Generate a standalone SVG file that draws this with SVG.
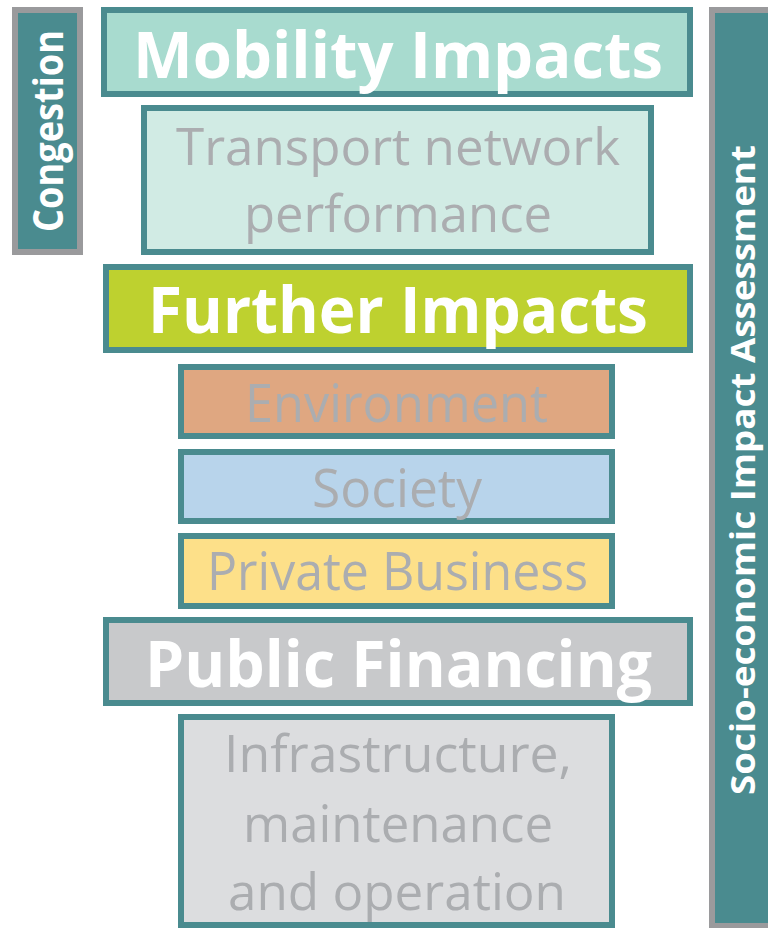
<svg xmlns="http://www.w3.org/2000/svg" width="768" height="928" viewBox="0 0 768 928">
<style>
.box{stroke:#4a8b8f;stroke-width:6}
.side{fill:#4a8b8f;stroke:#9a9a9c;stroke-width:6}
.h{font-family:"Open Sans","DejaVu Sans",sans-serif;font-weight:bold;fill:#ffffff;text-anchor:middle}
.t{font-family:"Open Sans","DejaVu Sans",sans-serif;fill:#abadb0;text-anchor:middle}
</style>
<rect width="768" height="928" fill="#ffffff"/>
<g id="congestion">
<rect class="side" x="15" y="10" width="65" height="242"/>
<text class="h" font-size="41" textLength="202" lengthAdjust="spacingAndGlyphs" transform="translate(63,131) rotate(-90)">Congestion</text>
</g>
<g id="socio-economic">
<rect class="side" x="712" y="10" width="62" height="916"/>
<text class="h" font-size="34" textLength="650" lengthAdjust="spacingAndGlyphs" transform="translate(755,470) rotate(-90)">Socio-economic Impact Assessment</text>
</g>
<g id="mobility">
<rect class="box" x="104" y="10" width="586" height="84" fill="#a8dbcf"/>
<text class="h" x="398" y="78" font-size="65" textLength="530" lengthAdjust="spacingAndGlyphs">Mobility Impacts</text>
</g>
<g id="transport">
<rect class="box" x="144" y="108" width="507" height="144" fill="#d1ebe4"/>
<text class="t" x="398" y="165" font-size="52" textLength="444" lengthAdjust="spacingAndGlyphs">Transport network</text>
<text class="t" x="398" y="232" font-size="52" textLength="308" lengthAdjust="spacingAndGlyphs">performance</text>
</g>
<g id="further">
<rect class="box" x="106" y="267" width="584" height="83" fill="#bed12f"/>
<text class="h" x="398" y="333" font-size="65" textLength="500" lengthAdjust="spacingAndGlyphs">Further Impacts</text>
</g>
<g id="environment">
<rect class="box" x="181" y="367" width="431" height="69" fill="#dfa781"/>
<text class="t" x="396.5" y="422" font-size="53" textLength="303" lengthAdjust="spacingAndGlyphs">Environment</text>
</g>
<g id="society">
<rect class="box" x="181" y="452" width="431" height="69" fill="#b8d4eb"/>
<text class="t" x="397" y="507" font-size="53" textLength="170" lengthAdjust="spacingAndGlyphs">Society</text>
</g>
<g id="private">
<rect class="box" x="181" y="536" width="431" height="70" fill="#fde089"/>
<text class="t" x="397.5" y="590" font-size="53" textLength="381" lengthAdjust="spacingAndGlyphs">Private Business</text>
</g>
<g id="public">
<rect class="box" x="106" y="620" width="584" height="83" fill="#c8c9cb"/>
<text class="h" x="398.5" y="687" font-size="65" textLength="507" lengthAdjust="spacingAndGlyphs">Public Financing</text>
</g>
<g id="infrastructure">
<rect class="box" x="181" y="717" width="431" height="208" fill="#dcdddf"/>
<text class="t" x="398" y="772" font-size="52" textLength="348" lengthAdjust="spacingAndGlyphs">Infrastructure,</text>
<text class="t" x="398" y="842" font-size="52" textLength="310" lengthAdjust="spacingAndGlyphs">maintenance</text>
<text class="t" x="397" y="910" font-size="52" textLength="338" lengthAdjust="spacingAndGlyphs">and operation</text>
</g>
<g id="connectors"></g>
</svg>
